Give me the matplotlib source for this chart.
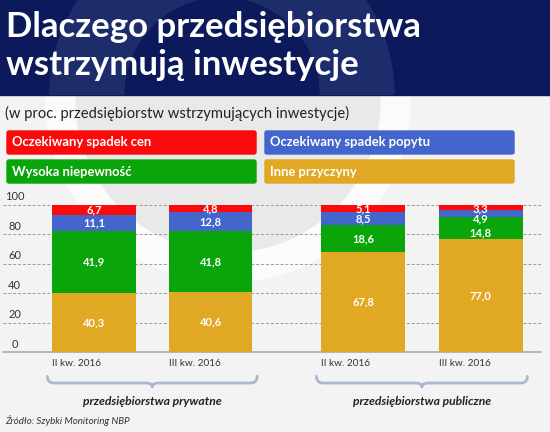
import matplotlib
matplotlib.use("Agg")
import matplotlib.pyplot as plt
import matplotlib.patches as mpatches
import matplotlib.transforms as mtransforms
import numpy as np

plt.rcParams['font.family'] = ['Lato', 'DejaVu Sans']

# data
categories = ["II kw. 2016", "III kw. 2016", "II kw. 2016", "III kw. 2016"]
groups = ["przedsiębiorstwa prywatne", "przedsiębiorstwa publiczne"]
series_names = ["Inne przyczyny", "Wysoka niepewność",
                "Oczekiwany spadek popytu", "Oczekiwany spadek cen"]
inne = [40.3, 40.6, 67.8, 77.0]
niepewnosc = [41.9, 41.8, 18.6, 14.8]
popyt = [11.1, 12.8, 8.5, 4.9]
ceny = [6.7, 4.8, 5.1, 3.3]
series = [inne, niepewnosc, popyt, ceny]
yticks = [0, 20, 40, 60, 80, 100]

colors = ["#e1a823", "#0aa50a", "#4466cc", "#fa0a0a"]
NAVY = "#0c1a5b"
W, H = 550, 432

# labels nudged apart where segments are too thin (bar index, series index) -> shift
label_shift = {(3, 3): -1.0, (3, 1): -3.4, (3, 2): -3.7}


def fx(px):
    return px / W


def fy(py):
    return 1 - py / H


fig = plt.figure(figsize=(5.5, 4.32), dpi=100)
fig.patch.set_facecolor("#f3f3f3")

# background watermark
fig.add_artist(mpatches.Ellipse((fx(228), fy(100)), 2 * 182 / W, 2 * 182 / H,
                                transform=fig.transFigure, color="#fbfbfb", zorder=0))
fig.add_artist(mpatches.Ellipse((fx(228), fy(100)), 2 * 152 / W, 2 * 152 / H,
                                transform=fig.transFigure, color="#e9e9ea", zorder=0))

# header
fig.add_artist(mpatches.Rectangle((0, fy(95)), 1, 95 / H, transform=fig.transFigure,
                                  color=NAVY, zorder=1))
ring = mpatches.Ellipse((fx(222), fy(95)), 2 * 172 / W, 2 * 172 / H,
                        transform=fig.transFigure, color="#1d2c6b", zorder=1.1)
inner = mpatches.Ellipse((fx(222), fy(95)), 2 * 97 / W, 2 * 97 / H,
                         transform=fig.transFigure, color=NAVY, zorder=1.2)
clip = mpatches.Rectangle((0, fy(95)), 1, 95 / H, transform=fig.transFigure)
for p in (ring, inner):
    fig.add_artist(p)
    p.set_clip_path(clip)

fig.text(fx(6), fy(37), "Dlaczego przedsiębiorstwa", color="white", fontsize=25,
         fontweight="bold", va="baseline", zorder=3)
fig.text(fx(6), fy(75), "wstrzymują inwestycje", color="white", fontsize=25,
         fontweight="bold", va="baseline", zorder=3)

fig.text(fx(5), fy(113), "(w proc. przedsiębiorstw wstrzymujących inwestycje)",
         color="#222222", fontsize=10.6, va="center")

# legend boxes
boxes = [(7, 131, 3), (265, 131, 2), (7, 160, 1), (265, 160, 0)]
for x0, y0, i in boxes:
    fig.add_artist(mpatches.FancyBboxPatch((fx(x0), fy(y0 + 23)), 249 / W, 23 / H,
                                           boxstyle="round,pad=0,rounding_size=0.004",
                                           transform=fig.transFigure, color=colors[i],
                                           zorder=2))
    fig.text(fx(x0 + 5), fy(y0 + 11.5), series_names[i], color="white", fontsize=9.4,
             fontweight="bold", va="center", zorder=3)

# chart
ax = fig.add_axes([fx(3), fy(352), (541 - 3) / W, 147 / H])
ax.set_facecolor("none")
xpos = np.array([0, 1, 2.31, 3.32])
bw = 0.72
ax.set_xlim((3 - 94) / 116.5, (541 - 94) / 116.5)
ax.set_ylim(0, 100)

bottom = np.zeros(len(xpos))
for si, (vals, c) in enumerate(zip(series, colors)):
    ax.bar(xpos, vals, width=bw, bottom=bottom, color=c, zorder=3)
    for bi, (x, b, v) in enumerate(zip(xpos, bottom, vals)):
        y = b + v / 2 + label_shift.get((bi, si), 0)
        ax.text(x, y, f"{v:.1f}".replace(".", ","), color="white",
                fontsize=8, fontweight="bold", ha="center", va="center", zorder=4)
    bottom += np.array(vals)

for t in yticks[1:]:
    ax.axhline(t, color="#9a9a9a", lw=0.7, ls=(0, (3, 2)), zorder=1)
lab_tr = mtransforms.offset_copy(ax.get_yaxis_transform(), fig=fig, x=0, y=8, units="dots")
for t in yticks:
    ax.text(11.5 / 538, t, str(t), transform=lab_tr,
            fontsize=8, color="#333333", ha="center", va="center")

# category labels aligned to the left edge of each bar
for x, lab in zip(xpos, categories):
    ax.text(x - bw / 2, -0.08, lab, transform=ax.get_xaxis_transform(), fontsize=7.2,
            color="#333333", ha="left", va="center")

ax.set_xticks([])
ax.set_yticks([])
for s in ["top", "left", "right"]:
    ax.spines[s].set_visible(False)
ax.spines["bottom"].set_color("#b0b0b0")
ax.spines["bottom"].set_linewidth(1.3)


def brace(x0, x1):
    # curly brace below a group of bars
    tr = ax.get_xaxis_transform()
    y_end, y_mid, y_tip = -0.165, -0.211, -0.238
    xm = (x0 + x1) / 2
    d = 0.06
    t = np.linspace(0, 1, 20)

    def qb(p0, p1, p2):
        return ((1 - t) ** 2 * p0[0] + 2 * (1 - t) * t * p1[0] + t ** 2 * p2[0],
                (1 - t) ** 2 * p0[1] + 2 * (1 - t) * t * p1[1] + t ** 2 * p2[1])

    xs, ys = [], []
    for a, b, c in [((x0, y_end), (x0, y_mid), (x0 + d, y_mid)),
                    ((x0 + d, y_mid), (xm - d, y_mid), (xm - d, y_mid)),
                    ((xm - d, y_mid), (xm, y_mid), (xm, y_tip)),
                    ((xm, y_tip), (xm, y_mid), (xm + d, y_mid)),
                    ((xm + d, y_mid), (x1 - d, y_mid), (x1 - d, y_mid)),
                    ((x1 - d, y_mid), (x1, y_mid), (x1, y_end))]:
        px, py = qb(a, b, c)
        xs.extend(px)
        ys.extend(py)
    ax.plot(xs, ys, transform=tr, color="#a9b8cf", lw=2, clip_on=False,
            solid_capstyle="round")


brace(xpos[0] - 0.40, xpos[1] + 0.40)
brace(xpos[2] - 0.40, xpos[3] + 0.40)

for g, xc in zip(groups, [(xpos[0] + xpos[1]) / 2, (xpos[2] + xpos[3]) / 2]):
    ax.text(xc, -0.34, g, transform=ax.get_xaxis_transform(), fontsize=8.7,
            fontweight="bold", fontstyle="italic", color="#222222", ha="center",
            va="center")

fig.text(fx(5), fy(420), "Źródło: Szybki Monitoring NBP", fontsize=7,
         fontstyle="italic", color="#333333", va="center")

fig.savefig("out.png", dpi=100, facecolor=fig.get_facecolor())
